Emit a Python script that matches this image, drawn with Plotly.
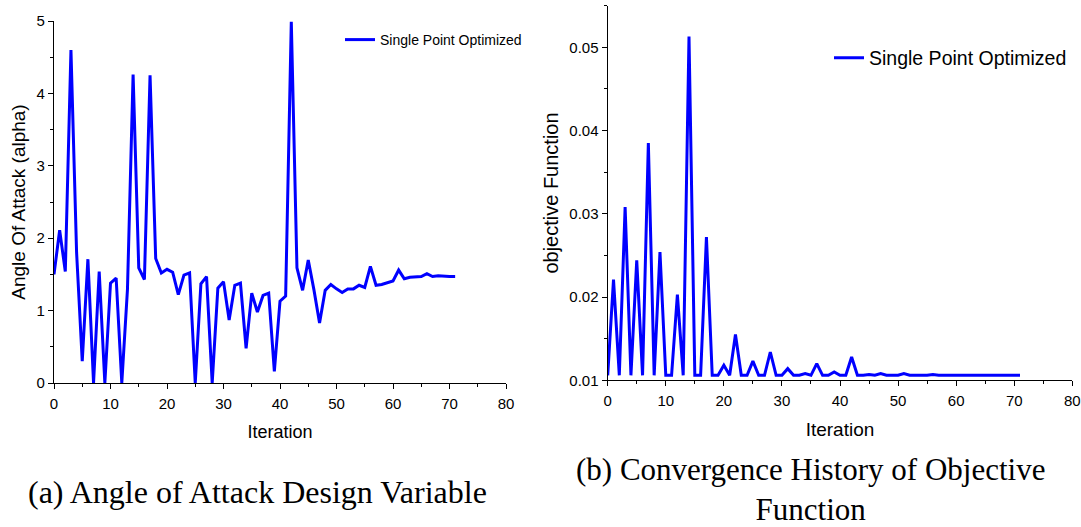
import plotly.graph_objects as go

iteration = list(range(72))
alpha = [1.50, 2.11, 1.54, 4.60, 1.80, 0.30, 1.71, 0.00, 1.54, 0.00,
         1.38, 1.45, 0.00, 1.29, 4.26, 1.59, 1.43, 4.25, 1.72, 1.52,
         1.57, 1.53, 1.22, 1.49, 1.52, 0.00, 1.37, 1.47, 0.00, 1.31,
         1.40, 0.87, 1.35, 1.38, 0.48, 1.24, 0.98, 1.21, 1.24, 0.16,
         1.13, 1.20, 4.99, 1.59, 1.28, 1.70, 1.29, 0.83, 1.28, 1.36,
         1.30, 1.25, 1.30, 1.30, 1.35, 1.32, 1.61, 1.35, 1.36, 1.38,
         1.41, 1.56, 1.44, 1.46, 1.46, 1.47, 1.51, 1.47, 1.48, 1.47,
         1.47, 1.47]
objective = [0.0106, 0.0221, 0.0106, 0.0308, 0.0106, 0.0244, 0.0106, 0.0385, 0.0106, 0.0254,
             0.0106, 0.0106, 0.0203, 0.0106, 0.0513, 0.0106, 0.0106, 0.0272, 0.0106, 0.0106,
             0.0118, 0.0106, 0.0155, 0.0106, 0.0106, 0.0123, 0.0106, 0.0106, 0.0134, 0.0106,
             0.0106, 0.0114, 0.0106, 0.0106, 0.0108, 0.0106, 0.0120, 0.0106, 0.0106, 0.0110,
             0.0106, 0.0106, 0.0128, 0.0106, 0.0106, 0.0107, 0.0106, 0.0108, 0.0106, 0.0106,
             0.0106, 0.0108, 0.0106, 0.0106, 0.0106, 0.0106, 0.0107, 0.0106, 0.0106, 0.0106,
             0.0106, 0.0106, 0.0106, 0.0106, 0.0106, 0.0106, 0.0106, 0.0106, 0.0106, 0.0106,
             0.0106, 0.0106]
series_name = "Single Point Optimized"
caption_a = "(a) Angle of Attack Design Variable"
caption_b = "(b) Convergence History of Objective<br>Function"

W, H = 1081, 527
BLUE = "#0000FF"
SANS = "Arial, Liberation Sans, sans-serif"
SERIF = "Palatino Linotype, Book Antiqua, Palatino, Liberation Serif, serif"

fig = go.Figure()
fig.add_trace(go.Scatter(x=iteration, y=alpha, mode="lines", name=series_name,
                         line=dict(color=BLUE, width=3), xaxis="x", yaxis="y",
                         legend="legend"))
fig.add_trace(go.Scatter(x=iteration, y=objective, mode="lines", name=series_name,
                         line=dict(color=BLUE, width=3), xaxis="x2", yaxis="y2",
                         legend="legend2"))

def ax(**kw):
    d = dict(showgrid=False, zeroline=False, showline=True, linecolor="black",
             linewidth=1.3, ticks="outside", ticklen=5, tickwidth=1.2,
             tickcolor="black", color="black", automargin=False)
    d.update(kw)
    return d

fig.update_layout(
    width=W, height=H, margin=dict(l=0, r=0, t=0, b=0, autoexpand=False),
    paper_bgcolor="white", plot_bgcolor="white",
    font=dict(family=SANS, color="black"),
    xaxis=ax(domain=[54/W, 506/W], range=[0, 80], dtick=10, anchor="y",
             tickfont=dict(size=15), ticklabelstandoff=2,
             title=dict(text="Iteration", font=dict(size=18), standoff=14),
             minor=dict(ticks="outside", ticklen=3, dtick=5, tickcolor="black")),
    yaxis=ax(domain=[(H-383)/H, (H-21)/H], range=[0, 5], dtick=1, anchor="x",
             tickfont=dict(size=15),
             title=dict(text="Angle Of Attack (alpha)", font=dict(size=19), standoff=5),
             minor=dict(ticks="outside", ticklen=3, dtick=0.5, tickcolor="black")),
    xaxis2=ax(domain=[607.7/W, 1072.3/W], range=[0, 80], dtick=10, anchor="y2",
              tickfont=dict(size=15), ticklabelstandoff=2,
              title=dict(text="Iteration", font=dict(size=19), standoff=14),
              minor=dict(ticks="outside", ticklen=3, dtick=5, tickcolor="black")),
    yaxis2=ax(domain=[(H-380.3)/H, (H-5.7)/H], range=[0.01, 0.055], dtick=0.01,
              tickformat=".2f", anchor="x2", tickfont=dict(size=15),
              title=dict(text="objective Function", font=dict(size=20), standoff=5),
              minor=dict(ticks="outside", ticklen=3, dtick=0.005, tickcolor="black")),
    legend=dict(x=340/W, y=1-40/H, xanchor="left", yanchor="middle",
                bgcolor="rgba(0,0,0,0)", font=dict(size=14, family=SANS)),
    legend2=dict(x=829/W, y=1-58/H, xanchor="left", yanchor="middle",
                 bgcolor="rgba(0,0,0,0)", font=dict(size=19.5, family=SANS)),
    showlegend=True,
)

fig.add_annotation(text=caption_a, xref="paper", yref="paper",
                   x=257/W, y=1-492/H, xanchor="center", yanchor="middle",
                   showarrow=False, font=dict(family=SERIF, size=32, color="black"))
fig.add_annotation(text=caption_b, xref="paper", yref="paper",
                   x=810/W, y=1-489/H, xanchor="center", yanchor="middle",
                   showarrow=False, align="center",
                   font=dict(family=SERIF, size=31, color="black"))

fig.write_html("out.html")
